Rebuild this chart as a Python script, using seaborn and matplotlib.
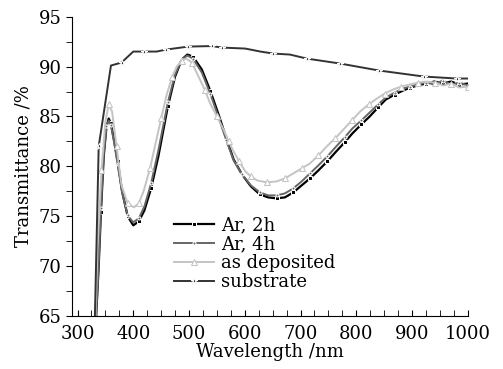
import matplotlib.pyplot as plt
import seaborn as sns

# data
wl_ar2 = [333, 338, 342, 347, 352, 356, 360, 366, 372, 380, 390, 400, 410, 420, 432, 445,
          462, 475, 487, 497, 507, 523, 538, 553, 567, 580, 595, 611, 627, 642, 657, 672,
          687, 702, 717, 732, 748, 764, 779, 793, 809, 824, 839, 853, 869, 884, 897, 910,
          925, 940, 955, 970, 985, 1000]
t_ar2 = [64.5, 70.0, 75.4, 81.0, 84.0, 84.8, 84.3, 82.5, 80.5, 77.5, 75.0, 74.1, 74.5, 75.6,
         77.8, 81.0, 86.0, 89.0, 90.7, 91.2, 91.0, 89.7, 87.6, 85.2, 82.8, 80.7, 79.2, 78.0,
         77.2, 76.9, 76.8, 76.9, 77.4, 78.1, 78.8, 79.6, 80.5, 81.5, 82.4, 83.3, 84.2, 85.0,
         85.9, 86.7, 87.2, 87.6, 87.9, 88.1, 88.3, 88.5, 88.3, 88.5, 88.2, 88.3]

wl_ar4 = [333, 338, 342, 347, 352, 356, 360, 366, 372, 380, 390, 400, 410, 420, 432, 445,
          462, 475, 487, 497, 507, 523, 538, 553, 567, 580, 595, 611, 627, 642, 657, 672,
          687, 702, 717, 732, 748, 764, 779, 793, 809, 824, 839, 853, 869, 884, 897, 910,
          925, 940, 955, 970, 985, 1000]
t_ar4 = [64.5, 70.3, 75.8, 81.2, 84.0, 84.6, 84.1, 82.3, 80.2, 77.4, 75.1, 74.4, 74.8, 76.0,
         78.3, 81.6, 86.4, 89.2, 90.7, 91.1, 90.8, 89.4, 87.3, 84.9, 82.6, 80.6, 79.2, 78.1,
         77.4, 77.1, 77.1, 77.3, 77.8, 78.5, 79.3, 80.1, 81.0, 82.0, 82.9, 83.8, 84.6, 85.4,
         86.2, 86.9, 87.4, 87.8, 88.0, 88.2, 88.4, 88.2, 88.6, 88.2, 88.4, 88.1]

wl_dep = [332, 336, 343, 350, 356, 362, 370, 379, 390, 401, 410, 419, 430, 440, 450, 460,
          470, 478, 487, 495, 505, 517, 528, 538, 550, 562, 571, 580, 590, 601, 611, 622,
          640, 657, 672, 687, 702, 717, 732, 747, 762, 777, 792, 807, 822, 837, 851, 866,
          881, 896, 911, 926, 941, 956, 970, 985, 1000]
t_dep = [64.5, 72.0, 79.6, 84.5, 86.2, 85.5, 82.0, 78.1, 76.3, 75.9, 76.3, 77.6, 79.8, 82.3,
         84.8, 87.2, 89.0, 90.0, 90.6, 90.8, 90.4, 89.0, 87.7, 86.3, 85.0, 83.7, 82.5, 81.5,
         80.5, 79.5, 79.0, 78.6, 78.4, 78.5, 78.8, 79.3, 79.8, 80.3, 81.1, 82.0, 82.8, 83.7,
         84.6, 85.5, 86.2, 86.8, 87.3, 87.7, 88.0, 88.2, 88.4, 88.5, 88.4, 88.1, 88.3, 87.9, 88.0]

wl_sub = [331, 338, 360, 379, 400, 420, 442, 459, 499, 541, 559, 601, 628, 651, 681, 711,
          771, 841, 921, 980, 1000]
t_sub = [64.5, 82.0, 90.1, 90.4, 91.5, 91.5, 91.5, 91.7, 92.0, 92.05, 91.9, 91.8, 91.5,
         91.3, 91.2, 90.8, 90.3, 89.6, 89.0, 88.8, 88.8]

labels = ['Ar, 2h', 'Ar, 4h', 'as deposited', 'substrate']

#%% PLOT
plt.rcParams['font.family'] = ['DejaVu Serif']
plt.rcParams['font.size'] = 12

fig, ax = plt.subplots(figsize=(5.03, 3.69), dpi=100)

sns.lineplot(x=wl_ar2, y=t_ar2, ax=ax, color='black', lw=1.6, marker='s', markersize=3.5,
             markevery=2, label=labels[0], sort=False)
sns.lineplot(x=wl_ar4, y=t_ar4, ax=ax, color='#666666', lw=1.4, marker='o', markersize=2.2,
             markevery=2, label=labels[1], sort=False)
sns.lineplot(x=wl_dep, y=t_dep, ax=ax, color='#c4c4c4', lw=1.4, marker='^', markersize=4.5,
             markerfacecolor='white', markeredgecolor='#c4c4c4', markevery=2,
             label=labels[2], sort=False)
sns.lineplot(x=wl_sub, y=t_sub, ax=ax, color='#333333', lw=1.4, marker='*', markersize=5,
             markevery=[1, 3, 5, 7, 8, 9, 10, 13, 15, 16, 17, 18, 19], label=labels[3], sort=False)

ax.set_xlim(290, 1000)
ax.set_ylim(65, 95)
ax.set_xticks(range(300, 1001, 100))
ax.set_xticks(range(300, 1001, 25), minor=True)
ax.set_yticks(range(65, 96, 5))
ax.set_yticks([67.5 + 5 * i for i in range(6)], minor=True)
ax.tick_params(axis='x', which='both', direction='in', length=4, labelsize=13, pad=6)
ax.tick_params(axis='y', which='both', direction='out', length=4, labelsize=13)
for s in ['top', 'right']:
    ax.spines[s].set_visible(False)

ax.set_xlabel('Wavelength /nm', fontsize=13, labelpad=0)
ax.set_ylabel('Transmittance /%', fontsize=13, labelpad=4)

ax.legend(loc='lower left', bbox_to_anchor=(0.24, 0.06), frameon=False, fontsize=13,
          handlelength=2.2, labelspacing=0.05, handletextpad=0.4, borderaxespad=0)

plt.subplots_adjust(left=0.143, right=0.93, top=0.955, bottom=0.143)
plt.savefig('out.png', dpi=100)
